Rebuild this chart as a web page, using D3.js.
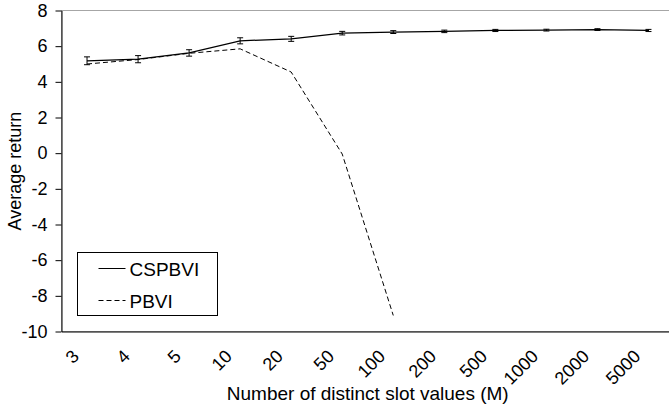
<!DOCTYPE html>
<html>
<head>
<meta charset="utf-8">
<script src="https://cdn.jsdelivr.net/npm/d3@7"></script>
<style>
  html, body { margin: 0; padding: 0; background: #fff; }
  svg { display: block; font-family: "Liberation Sans", Arial, sans-serif; }
</style>
</head>
<body>
<svg id="chart" width="669" height="408"></svg>
<script>
const categories = ["3", "4", "5", "10", "20", "50", "100", "200", "500", "1000", "2000", "5000"];
const cspbvi = [5.18, 5.27, 5.62, 6.3, 6.41, 6.73, 6.79, 6.83, 6.88, 6.9, 6.93, 6.88];
const cspbviErr = [0.22, 0.2, 0.18, 0.17, 0.14, 0.1, 0.08, 0.07, 0.06, 0.05, 0.05, 0.06];
const pbvi = [5.0, 5.25, 5.6, 5.85, 4.55, -0.05, -9.1];
const yTicks = [-10, -8, -6, -4, -2, 0, 2, 4, 6, 8];

const svg = d3.select("#chart");
const plotL = 61.5, plotR = 674, plotT = 10.5, plotB = 331.5;

const x = d3.scaleBand().domain(categories).range([plotL, plotR]);
const y = d3.scaleLinear().domain([-10, 8]).range([plotB, plotT]);
const cx = (c) => x(c) + x.bandwidth() / 2;

// plot area border (only top is visible in grey)
svg.append("rect")
  .attr("x", plotL).attr("y", plotT)
  .attr("width", plotR - plotL).attr("height", plotB - plotT)
  .attr("fill", "none").attr("stroke", "#a6a6a6").attr("stroke-width", 1);

// y axis
const gy = svg.append("g")
  .attr("transform", `translate(${plotL},0)`)
  .call(d3.axisLeft(y).tickValues(yTicks).tickFormat((d) => String(d))
    .tickSize(6).tickPadding(8).tickSizeOuter(0));
gy.select(".domain").attr("stroke", "#000");
gy.selectAll(".tick line").attr("stroke", "#000");
gy.selectAll("text").attr("font-size", 18).attr("fill", "#000")
  .attr("font-family", "Liberation Sans, Arial, sans-serif");

// x axis
const gx = svg.append("g")
  .attr("transform", `translate(0,${plotB})`)
  .call(d3.axisBottom(x).tickSize(0).tickSizeOuter(0));
gx.select(".domain").attr("stroke", "#000");
gx.selectAll("text")
  .attr("font-size", 18).attr("fill", "#000")
  .attr("font-family", "Liberation Sans, Arial, sans-serif")
  .attr("text-anchor", "end")
  .attr("dy", null)
  .attr("y", 0)
  .attr("transform", "translate(-7,26) rotate(-45)");

// PBVI dashed line
const line = d3.line().x((d) => cx(d.c)).y((d) => y(d.v));
svg.append("path")
  .datum(pbvi.map((v, i) => ({ c: categories[i], v })))
  .attr("d", line)
  .attr("fill", "none").attr("stroke", "#000").attr("stroke-width", 1)
  .attr("stroke-dasharray", "5,3");

// CSPBVI solid line
svg.append("path")
  .datum(cspbvi.map((v, i) => ({ c: categories[i], v })))
  .attr("d", line)
  .attr("fill", "none").attr("stroke", "#000").attr("stroke-width", 1.2);

// error bars
const eb = svg.append("g").attr("stroke", "#000").attr("stroke-width", 1);
cspbvi.forEach((v, i) => {
  const px = cx(categories[i]);
  const y0 = y(v - cspbviErr[i]), y1 = y(v + cspbviErr[i]);
  eb.append("line").attr("x1", px).attr("x2", px).attr("y1", y0).attr("y2", y1);
  eb.append("line").attr("x1", px - 3).attr("x2", px + 3).attr("y1", y0).attr("y2", y0);
  eb.append("line").attr("x1", px - 3).attr("x2", px + 3).attr("y1", y1).attr("y2", y1);
});

// legend
const lg = svg.append("g").attr("transform", "translate(77.5,252.5)");
lg.append("rect").attr("width", 140).attr("height", 63)
  .attr("fill", "#fff").attr("stroke", "#000").attr("stroke-width", 1);
const items = [["CSPBVI", null], ["PBVI", "5,3"]];
items.forEach(([name, dash], i) => {
  const ly = 16 + i * 32;
  lg.append("line").attr("x1", 21).attr("x2", 48).attr("y1", ly).attr("y2", ly)
    .attr("stroke", "#000").attr("stroke-width", 1)
    .attr("stroke-dasharray", dash);
  lg.append("text").attr("x", 52).attr("y", ly + 7)
    .attr("font-size", 19).text(name);
});

// axis titles
svg.append("text")
  .attr("x", (plotL + plotR) / 2).attr("y", 400)
  .attr("text-anchor", "middle").attr("font-size", 19)
  .text("Number of distinct slot values (M)");
svg.append("text")
  .attr("transform", `translate(21,${(plotT + plotB) / 2}) rotate(-90)`)
  .attr("text-anchor", "middle").attr("font-size", 18)
  .text("Average return");
</script>
</body>
</html>
